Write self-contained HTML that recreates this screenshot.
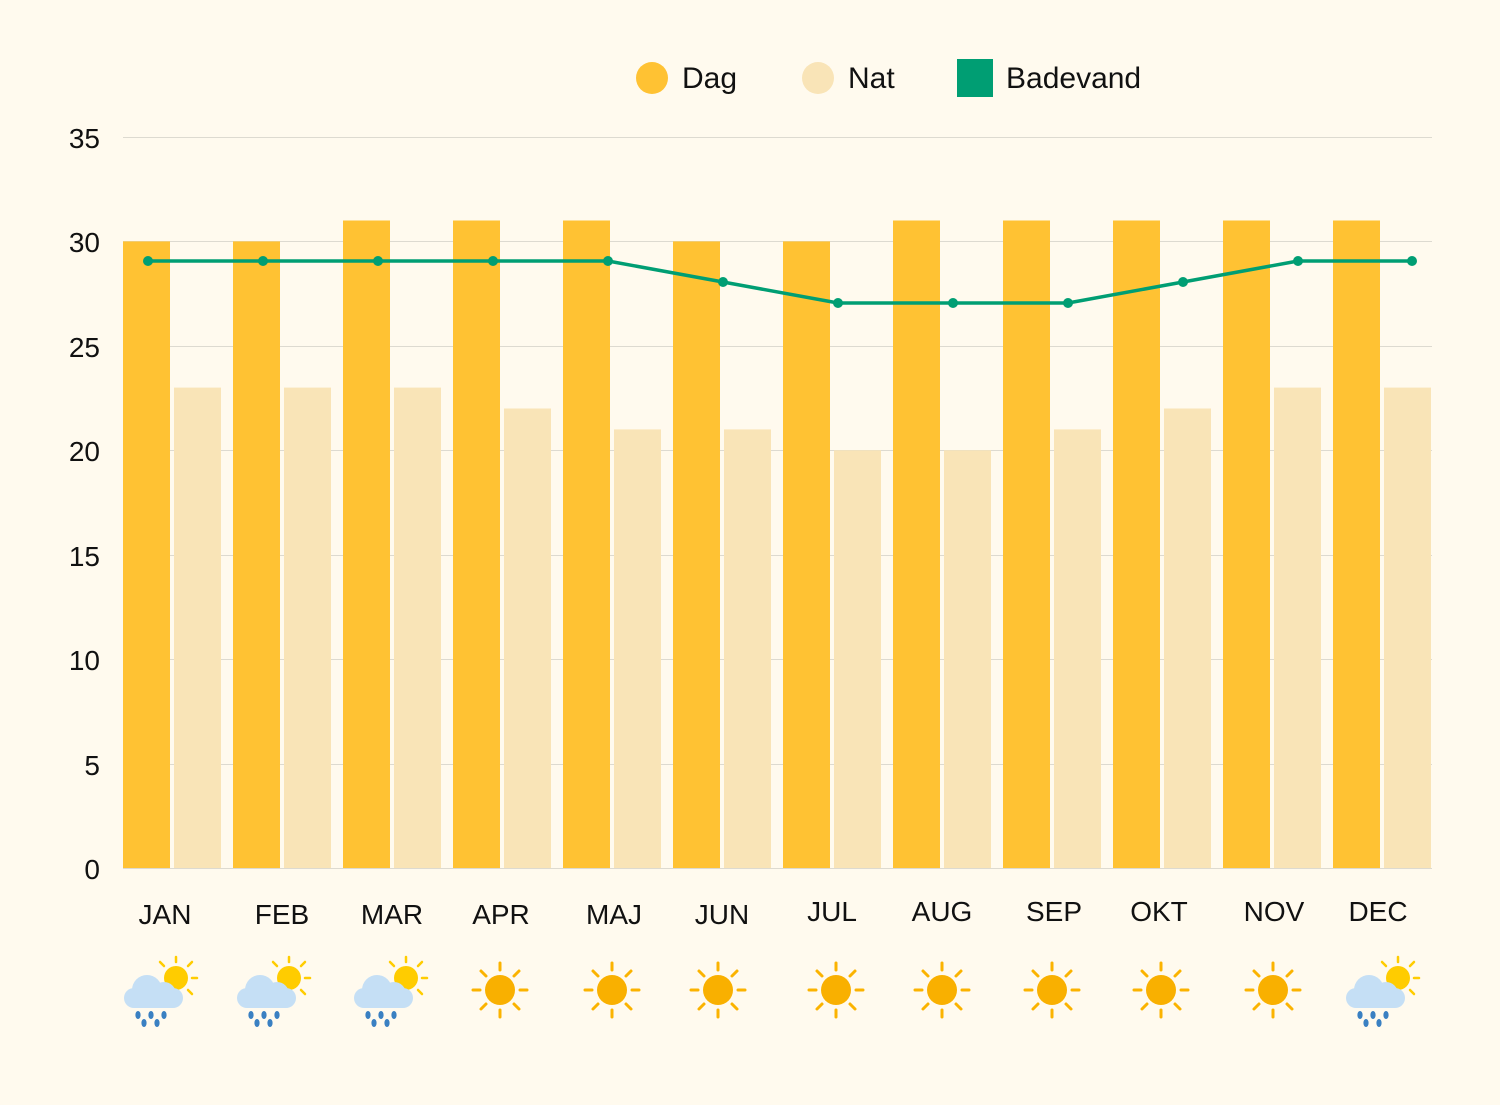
<!DOCTYPE html>
<html><head><meta charset="utf-8"><style>
html,body{margin:0;padding:0;background:#fffaee;}
svg text{font-family:"Liberation Sans",sans-serif;fill:#111;}
</style></head><body>
<svg width="1500" height="1100" viewBox="0 0 1500 1100" xmlns="http://www.w3.org/2000/svg">
<rect width="1500" height="1100" fill="#fffaee"/>
<defs>
<g id="sun">
<circle r="15" fill="#f9b000"/>
<g stroke="#fbb300" stroke-width="3" stroke-linecap="round">
<line x1="0" y1="-20" x2="0" y2="-27"/><line x1="0" y1="20" x2="0" y2="27"/>
<line x1="-20" y1="0" x2="-27" y2="0"/><line x1="20" y1="0" x2="27" y2="0"/>
<line x1="14" y1="-14" x2="19" y2="-19"/><line x1="-14" y1="-14" x2="-19" y2="-19"/>
<line x1="14" y1="14" x2="19" y2="19"/><line x1="-14" y1="14" x2="-19" y2="19"/>
</g></g>
<g id="rain">
<g transform="translate(21,-12)">
<circle r="12" fill="#ffcc00"/>
<g stroke="#ffcc00" stroke-width="2.5" stroke-linecap="round">
<line x1="0" y1="-16" x2="0" y2="-21"/><line x1="16" y1="0" x2="21" y2="0"/>
<line x1="12" y1="-12" x2="16" y2="-16"/><line x1="-12" y1="-12" x2="-16" y2="-16"/>
<line x1="12" y1="12" x2="16" y2="16"/>
</g></g>
<g fill="#c5dff5">
<circle cx="-8" cy="0" r="15"/><circle cx="9" cy="4" r="12"/>
<rect x="-31" y="-2" width="59" height="20" rx="10"/>
</g>
<g fill="#3a80c2">
<ellipse cx="-17" cy="25" rx="2.6" ry="4"/><ellipse cx="-4" cy="25" rx="2.6" ry="4"/><ellipse cx="9" cy="25" rx="2.6" ry="4"/>
<ellipse cx="-11" cy="33" rx="2.6" ry="4"/><ellipse cx="2" cy="33" rx="2.6" ry="4"/>
</g></g>
</defs>
<!-- legend -->
<circle cx="652" cy="78" r="16" fill="#ffc233"/>
<text x="682" y="88" font-size="30">Dag</text>
<circle cx="818" cy="78" r="16" fill="#f9e4b7"/>
<text x="848" y="88" font-size="30">Nat</text>
<rect x="957" y="59" width="36" height="38" fill="#009e73"/>
<text x="1006" y="88" font-size="30">Badevand</text>
<!-- grid -->
<g stroke="#dddad0" stroke-width="1">
<line x1="123" x2="1432" y1="137.5" y2="137.5"/><line x1="123" x2="1432" y1="241.5" y2="241.5"/>
<line x1="123" x2="1432" y1="346.5" y2="346.5"/><line x1="123" x2="1432" y1="450.5" y2="450.5"/>
<line x1="123" x2="1432" y1="555.5" y2="555.5"/><line x1="123" x2="1432" y1="659.5" y2="659.5"/>
<line x1="123" x2="1432" y1="764.5" y2="764.5"/><line x1="123" x2="1432" y1="868.5" y2="868.5"/>
</g>
<g font-size="28" text-anchor="end">
<text x="100" y="148">35</text><text x="100" y="252">30</text><text x="100" y="357">25</text>
<text x="100" y="461">20</text><text x="100" y="566">15</text><text x="100" y="670">10</text>
<text x="100" y="775">5</text><text x="100" y="879">0</text>
</g>
<!-- bars -->
<g fill="#ffc233">
<rect x="123" y="241.4" width="47" height="626.6"/>
<rect x="233" y="241.4" width="47" height="626.6"/>
<rect x="343" y="220.5" width="47" height="647.5"/>
<rect x="453" y="220.5" width="47" height="647.5"/>
<rect x="563" y="220.5" width="47" height="647.5"/>
<rect x="673" y="241.4" width="47" height="626.6"/>
<rect x="783" y="241.4" width="47" height="626.6"/>
<rect x="893" y="220.5" width="47" height="647.5"/>
<rect x="1003" y="220.5" width="47" height="647.5"/>
<rect x="1113" y="220.5" width="47" height="647.5"/>
<rect x="1223" y="220.5" width="47" height="647.5"/>
<rect x="1333" y="220.5" width="47" height="647.5"/>
</g>
<g fill="#f9e4b7">
<rect x="174" y="387.6" width="47" height="480.4"/>
<rect x="284" y="387.6" width="47" height="480.4"/>
<rect x="394" y="387.6" width="47" height="480.4"/>
<rect x="504" y="408.5" width="47" height="459.5"/>
<rect x="614" y="429.4" width="47" height="438.6"/>
<rect x="724" y="429.4" width="47" height="438.6"/>
<rect x="834" y="450.3" width="47" height="417.7"/>
<rect x="944" y="450.3" width="47" height="417.7"/>
<rect x="1054" y="429.4" width="47" height="438.6"/>
<rect x="1164" y="408.5" width="47" height="459.5"/>
<rect x="1274" y="387.6" width="47" height="480.4"/>
<rect x="1384" y="387.6" width="47" height="480.4"/>
</g>
<!-- line -->
<polyline fill="none" stroke="#009e73" stroke-width="3.5" stroke-linejoin="round" points="148,261 263,261 378,261 493,261 608,261 723,282 838,303 953,303 1068,303 1183,282 1298,261 1412,261"/>
<g fill="#009e73">
<circle cx="148" cy="261" r="5"/><circle cx="263" cy="261" r="5"/><circle cx="378" cy="261" r="5"/>
<circle cx="493" cy="261" r="5"/><circle cx="608" cy="261" r="5"/><circle cx="723" cy="282" r="5"/>
<circle cx="838" cy="303" r="5"/><circle cx="953" cy="303" r="5"/><circle cx="1068" cy="303" r="5"/>
<circle cx="1183" cy="282" r="5"/><circle cx="1298" cy="261" r="5"/><circle cx="1412" cy="261" r="5"/>
</g>
<!-- month labels -->
<g font-size="28" text-anchor="middle">
<text x="165" y="924">JAN</text><text x="282" y="924">FEB</text><text x="392" y="924">MAR</text>
<text x="501" y="924">APR</text><text x="614" y="924">MAJ</text><text x="722" y="924">JUN</text>
<text x="832" y="921">JUL</text><text x="942" y="921">AUG</text><text x="1054" y="921">SEP</text>
<text x="1159" y="921">OKT</text><text x="1274" y="921">NOV</text><text x="1378" y="921">DEC</text>
</g>
<!-- icons -->
<use href="#rain" x="155" y="990"/>
<use href="#rain" x="268" y="990"/>
<use href="#rain" x="385" y="990"/>
<use href="#sun" x="500" y="990"/>
<use href="#sun" x="612" y="990"/>
<use href="#sun" x="718" y="990"/>
<use href="#sun" x="836" y="990"/>
<use href="#sun" x="942" y="990"/>
<use href="#sun" x="1052" y="990"/>
<use href="#sun" x="1161" y="990"/>
<use href="#sun" x="1273" y="990"/>
<use href="#rain" x="1377" y="990"/>
</svg>
</body></html>
